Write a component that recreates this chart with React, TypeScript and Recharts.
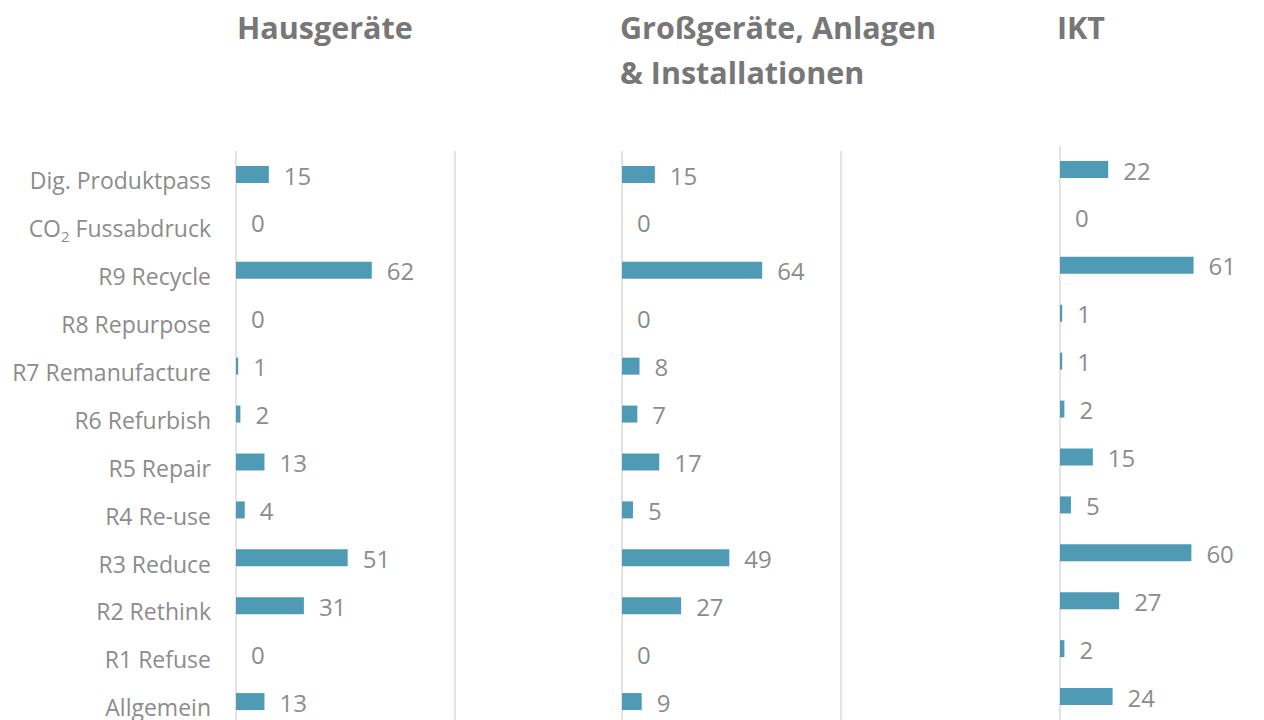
import React from 'react';
import { BarChart, Bar, XAxis, YAxis, CartesianGrid, LabelList } from 'recharts';

const categories = [
  'Dig. Produktpass',
  'CO₂ Fussabdruck',
  'R9 Recycle',
  'R8 Repurpose',
  'R7 Remanufacture',
  'R6 Refurbish',
  'R5 Repair',
  'R4 Re-use',
  'R3 Reduce',
  'R2 Rethink',
  'R1 Refuse',
  'Allgemein',
];

const hausgeraete = [15, 0, 62, 0, 1, 2, 13, 4, 51, 31, 0, 13];
const grossgeraete = [15, 0, 64, 0, 8, 7, 17, 5, 49, 27, 0, 9];
const ikt = [22, 0, 61, 1, 1, 2, 15, 5, 60, 27, 2, 24];

const gridTicks = [0, 100];

const titles = ['Hausgeräte', 'Großgeräte, Anlagen\n& Installationen', 'IKT'];

const BAR_COLOR = '#4f9bb5';
const GRID_COLOR = '#e3e3e3';
const LABEL_COLOR = '#8c8c8c';
const TITLE_COLOR = '#777777';
const FONT = '"Open Sans", sans-serif';

const makeData = (values: number[]) => categories.map((c, i) => ({ name: c, value: values[i] }));

const CategoryTick = (props: any) => {
  const { x, y, payload } = props;
  const text: string = payload.value;
  const parts = text.split('₂');
  return (
    <text x={x} y={y + 6} dy="0.357em" textAnchor="end" fill={LABEL_COLOR} fontSize={23} fontFamily={FONT}>
      {parts.length === 2 ? (
        <>
          <tspan>{parts[0]}</tspan>
          <tspan fontSize={15} dy={5}>2</tspan>
          <tspan dy={-5}>{parts[1]}</tspan>
        </>
      ) : (
        text
      )}
    </text>
  );
};

const ValueLabel = (props: any) => {
  const { x, y, width, height, value } = props;
  const tx = Number(x) + Number(width || 0) + 15;
  const ty = Number(y) + Number(height || 0) / 2 + 1.5;
  return (
    <text x={tx} y={ty} dy="0.355em" textAnchor="start" fill={LABEL_COLOR} fontSize={24} fontFamily={FONT}>
      {value}
    </text>
  );
};

type PanelProps = {
  values: number[];
  left: number;
  top: number;
  width: number;
  marginLeft: number;
  plotTop: number;
  showAxis: boolean;
};

const PLOT_H = 575;

const Panel = ({ values, left, top, width, marginLeft, plotTop, showAxis }: PanelProps) => {
  const height = plotTop + PLOT_H + 14;
  return (
    <div style={{ position: 'absolute', left, top }}>
      <BarChart
        width={width}
        height={height}
        data={makeData(values)}
        layout="vertical"
        margin={{ top: plotTop, right: width - marginLeft - 219, bottom: 14, left: showAxis ? 0 : marginLeft }}
      >
        <CartesianGrid horizontal={false} vertical stroke={GRID_COLOR} strokeWidth={2} />
        <XAxis type="number" domain={[0, 100]} ticks={gridTicks} hide />
        <YAxis
          type="category"
          dataKey="name"
          hide={!showAxis}
          width={marginLeft}
          axisLine={false}
          tickLine={false}
          tickSize={0}
          tickMargin={25}
          interval={0}
          tick={<CategoryTick />}
        />
        <Bar dataKey="value" fill={BAR_COLOR} barSize={17} minPointSize={0.01} isAnimationActive={false}>
          <LabelList dataKey="value" content={<ValueLabel />} />
        </Bar>
      </BarChart>
    </div>
  );
};

const Title = ({ text, left }: { text: string; left: number }) => (
  <div
    style={{
      position: 'absolute',
      left,
      top: 5,
      fontFamily: FONT,
      fontWeight: 700,
      fontSize: 30.5,
      lineHeight: '45px',
      color: TITLE_COLOR,
      whiteSpace: 'pre',
    }}
  >
    {text}
  </div>
);

export default function App() {
  return (
    <div
      style={{
        position: 'absolute',
        left: 0,
        top: 0,
        width: 1264,
        height: 720,
        overflow: 'hidden',
        background: '#ffffff',
      }}
    >
      <Title text={titles[0]} left={237} />
      <Title text={titles[1]} left={620} />
      <Title text={titles[2]} left={1057} />
      <Panel values={hausgeraete} left={0} top={0} width={480} marginLeft={236} plotTop={151} showAxis />
      <Panel values={grossgeraete} left={600} top={0} width={280} marginLeft={22} plotTop={151} showAxis={false} />
      <Panel values={ikt} left={1040} top={0} width={280} marginLeft={20} plotTop={146} showAxis={false} />
    </div>
  );
}
